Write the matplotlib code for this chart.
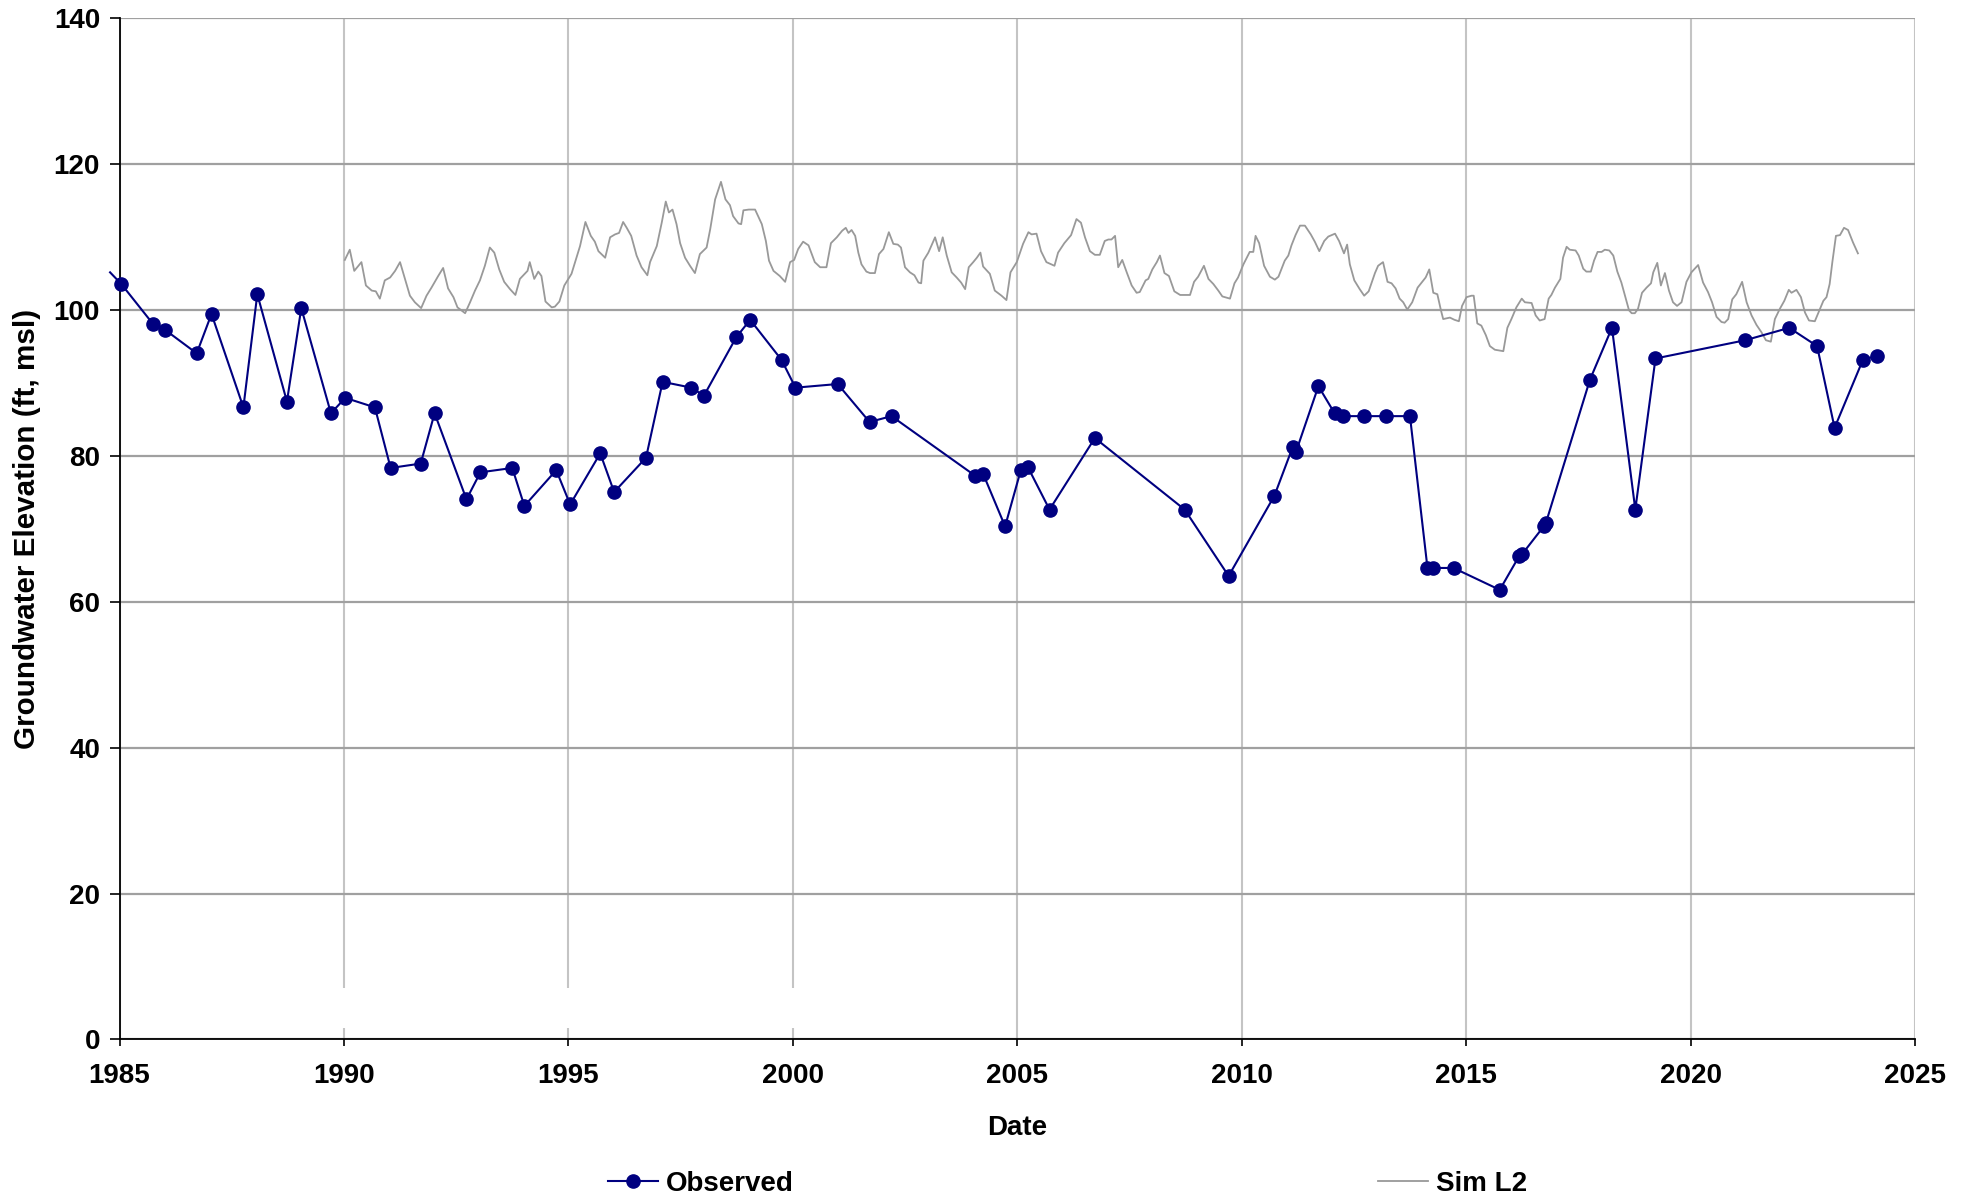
import matplotlib
matplotlib.use("Agg")
import matplotlib.pyplot as plt
from matplotlib.lines import Line2D
from matplotlib.patches import Rectangle

# ---------------- data ----------------
obs_dates = [1984.79, 1985.04, 1985.75, 1986.02, 1986.72, 1987.05, 1987.76, 1988.07, 1988.73, 1989.05,
             1989.71, 1990.03, 1990.69, 1991.04, 1991.71, 1992.02, 1992.73, 1993.04, 1993.75, 1994.02,
             1994.73, 1995.04, 1995.71, 1996.02, 1996.73, 1997.10, 1997.74, 1998.02, 1998.74, 1999.05,
             1999.75, 2000.06, 2001.00, 2001.71, 2002.20, 2004.07, 2004.24, 2004.73, 2005.08, 2005.23,
             2005.72, 2006.73, 2008.73, 2009.71, 2010.73, 2011.14, 2011.21, 2011.71, 2012.07, 2012.25,
             2012.73, 2013.22, 2013.75, 2014.14, 2014.26, 2014.72, 2015.75, 2016.19, 2016.25, 2016.73,
             2016.78, 2017.76, 2018.25, 2018.77, 2019.22, 2021.22, 2022.20, 2022.82, 2023.21, 2023.84,
             2024.16]
obs_values = [105.1, 103.5, 98.0, 97.2, 94.0, 99.4, 86.6, 102.1, 87.4, 100.2,
              85.8, 87.9, 86.6, 78.3, 78.9, 85.8, 74.0, 77.7, 78.3, 73.1,
              78.0, 73.3, 80.3, 75.0, 79.7, 90.1, 89.3, 88.2, 96.2, 98.6,
              93.1, 89.3, 89.8, 84.6, 85.4, 77.2, 77.5, 70.3, 78.0, 78.5,
              72.6, 82.4, 72.6, 63.5, 74.5, 81.2, 80.5, 89.5, 85.8, 85.4,
              85.4, 85.4, 85.4, 64.6, 64.6, 64.6, 61.6, 66.3, 66.5, 70.3,
              70.8, 90.4, 97.5, 72.6, 93.3, 95.8, 97.5, 95.0, 83.8, 93.1,
              93.7]

sim_dates = [
    1990.02, 1990.13, 1990.23, 1990.39, 1990.49, 1990.62, 1990.71, 1990.80, 1990.91, 1991.03,
    1991.14, 1991.25, 1991.36, 1991.47, 1991.58, 1991.72, 1991.84, 1991.95, 1992.10, 1992.21,
    1992.32, 1992.44, 1992.53, 1992.70, 1992.81, 1992.92, 1993.03, 1993.14, 1993.25, 1993.35,
    1993.46, 1993.57, 1993.70, 1993.82, 1993.92, 1994.09, 1994.14, 1994.24, 1994.33, 1994.40,
    1994.49, 1994.63, 1994.70, 1994.80, 1994.91, 1995.07, 1995.26, 1995.38, 1995.50,
    1995.59, 1995.67, 1995.82, 1995.93, 1996.04, 1996.13, 1996.22, 1996.30, 1996.40, 1996.52,
    1996.63, 1996.76, 1996.82, 1996.97, 1997.08, 1997.17, 1997.24, 1997.32, 1997.41, 1997.49,
    1997.60, 1997.71, 1997.82, 1997.93, 1998.08, 1998.16, 1998.27, 1998.40, 1998.50, 1998.60,
    1998.67, 1998.79, 1998.85, 1998.90, 1999.02, 1999.16, 1999.31, 1999.40, 1999.47, 1999.57,
    1999.71, 1999.83, 1999.94, 2000.03, 2000.12, 2000.23, 2000.35, 2000.49, 2000.61, 2000.75,
    2000.85, 2000.98, 2001.10, 2001.18, 2001.24, 2001.31,
    2001.39, 2001.46, 2001.53, 2001.64, 2001.72, 2001.83, 2001.92, 2002.02, 2002.14, 2002.24,
    2002.34, 2002.41, 2002.50, 2002.61, 2002.71, 2002.80, 2002.86, 2002.91, 2003.02, 2003.17,
    2003.26, 2003.34, 2003.43, 2003.54, 2003.65, 2003.75, 2003.84, 2003.92, 2004.02, 2004.10,
    2004.18, 2004.24, 2004.39, 2004.50, 2004.65, 2004.76, 2004.85, 2004.99, 2005.13, 2005.25,
    2005.32, 2005.43, 2005.53, 2005.65, 2005.83, 2005.91, 2006.05, 2006.20, 2006.32, 2006.42,
    2006.51, 2006.62, 2006.73, 2006.84, 2006.95, 2007.03, 2007.10,
    2007.18, 2007.25, 2007.34, 2007.44, 2007.55, 2007.66, 2007.73, 2007.86, 2007.92, 2008.01,
    2008.11, 2008.18, 2008.28, 2008.38, 2008.50, 2008.63, 2008.85, 2008.94, 2009.03, 2009.16,
    2009.26, 2009.37, 2009.48, 2009.57, 2009.74, 2009.84, 2009.92, 2010.04, 2010.18, 2010.26,
    2010.31, 2010.39, 2010.50, 2010.63, 2010.74, 2010.82, 2010.96, 2011.04, 2011.11, 2011.20,
    2011.30, 2011.41, 2011.54, 2011.63, 2011.73, 2011.84, 2011.93, 2012.08, 2012.17, 2012.28,
    2012.35, 2012.41, 2012.51, 2012.63, 2012.73, 2012.83,
    2012.97, 2013.04, 2013.15, 2013.25, 2013.34, 2013.43, 2013.52, 2013.60, 2013.69, 2013.80,
    2013.92, 2014.01, 2014.10, 2014.18, 2014.27, 2014.36, 2014.44, 2014.49, 2014.64, 2014.74,
    2014.84, 2014.91, 2015.01, 2015.12, 2015.17, 2015.25, 2015.34, 2015.44, 2015.53, 2015.64,
    2015.83, 2015.92, 2016.01, 2016.12, 2016.24, 2016.31, 2016.46, 2016.55, 2016.64, 2016.75,
    2016.84, 2016.90, 2016.98, 2017.10, 2017.16, 2017.24, 2017.31, 2017.44, 2017.51, 2017.61,
    2017.68, 2017.78, 2017.85, 2017.93, 2018.02, 2018.09, 2018.19, 2018.28, 2018.37, 2018.46,
    2018.54, 2018.63, 2018.69,
    2018.76, 2018.83, 2018.92, 2019.02, 2019.12, 2019.17, 2019.26, 2019.34, 2019.43, 2019.52,
    2019.61, 2019.70, 2019.80, 2019.91, 2020.02, 2020.17, 2020.28, 2020.39, 2020.48, 2020.58,
    2020.69, 2020.76, 2020.84, 2020.93, 2021.02, 2021.15, 2021.25, 2021.36, 2021.47, 2021.58,
    2021.68, 2021.79, 2021.88, 2021.99, 2022.09, 2022.19, 2022.25, 2022.36, 2022.46, 2022.55,
    2022.64, 2022.77, 2022.88, 2022.96, 2023.03, 2023.10, 2023.16, 2023.24, 2023.33, 2023.42,
    2023.51, 2023.62, 2023.73]
sim_values = [
    106.8, 108.2, 105.3, 106.5, 103.3, 102.6, 102.5, 101.5, 104.0, 104.4,
    105.3, 106.5, 104.2, 101.9, 101.0, 100.2, 101.9, 103.0, 104.6, 105.7,
    102.9, 101.7, 100.3, 99.5, 101.0, 102.6, 104.0, 106.0, 108.5, 107.8,
    105.5, 103.8, 102.8, 102.0, 104.2, 105.3, 106.5, 104.2, 105.2, 104.6,
    101.1, 100.3, 100.4, 101.1, 103.3, 104.9, 108.7, 112.0, 110.1,
    109.3, 108.0, 107.1, 109.9, 110.3, 110.5, 112.0, 111.2, 110.1, 107.4,
    105.8, 104.7, 106.5, 108.7, 111.9, 114.8, 113.3, 113.7, 111.7, 109.1,
    107.1, 106.0, 105.0, 107.6, 108.5, 111.0, 115.1, 117.5, 115.1, 114.3,
    112.8, 111.8, 111.7, 113.6, 113.7, 113.7, 111.7, 109.4, 106.7, 105.3,
    104.6, 103.8, 106.5, 106.8, 108.3, 109.3, 108.8, 106.5, 105.8, 105.8,
    109.1, 109.9, 110.8, 111.2, 110.5, 110.9,
    110.1, 107.8, 106.2, 105.2, 105.0, 105.0, 107.6, 108.3, 110.6, 109.0,
    108.9, 108.5, 105.8, 105.1, 104.7, 103.7, 103.6, 106.7, 107.8, 109.9,
    108.0, 109.9, 107.4, 105.1, 104.4, 103.7, 102.8, 105.8, 106.5, 107.1,
    107.8, 105.9, 104.9, 102.6, 101.9, 101.3, 105.1, 106.5, 109.0, 110.6,
    110.3, 110.4, 108.0, 106.5, 106.0, 107.8, 109.1, 110.2, 112.4, 111.9,
    109.9, 108.0, 107.5, 107.5, 109.4, 109.6, 109.6,
    110.1, 105.8, 106.8, 105.1, 103.3, 102.3, 102.4, 104.0, 104.2, 105.5,
    106.5, 107.4, 105.0, 104.6, 102.5, 102.0, 102.0, 103.8, 104.5, 106.0,
    104.2, 103.5, 102.6, 101.8, 101.5, 103.6, 104.4, 106.2, 107.9, 107.9,
    110.1, 109.1, 106.0, 104.5, 104.1, 104.5, 106.7, 107.4, 108.8, 110.2,
    111.5, 111.5, 110.3, 109.3, 108.0, 109.4, 110.0, 110.4, 109.4, 107.7,
    108.9, 106.2, 104.0, 102.8, 101.9, 102.5,
    105.0, 106.0, 106.5, 103.8, 103.6, 102.9, 101.5, 101.0, 100.0, 101.0,
    103.0, 103.7, 104.4, 105.5, 102.3, 102.1, 99.9, 98.7, 98.9, 98.6,
    98.4, 100.5, 101.7, 101.9, 101.9, 98.1, 97.8, 96.5, 95.0, 94.5,
    94.3, 97.5, 98.7, 100.3, 101.5, 101.0, 100.9, 99.2, 98.5, 98.7,
    101.5, 102.0, 103.0, 104.2, 107.1, 108.6, 108.2, 108.1, 107.4, 105.6,
    105.2, 105.2, 106.7, 107.9, 107.9, 108.2, 108.1, 107.4, 105.2, 103.7,
    101.9, 99.9, 99.5,
    99.5, 100.1, 102.3, 103.0, 103.6, 105.1, 106.4, 103.3, 105.0, 102.6,
    101.0, 100.5, 101.0, 103.8, 105.1, 106.1, 103.7, 102.4, 101.0, 99.0,
    98.3, 98.2, 98.7, 101.4, 102.1, 103.8, 101.0, 99.2, 97.9, 96.9,
    95.8, 95.6, 98.7, 100.1, 101.2, 102.7, 102.3, 102.7, 101.7, 99.6,
    98.5, 98.4, 100.0, 101.2, 101.7, 103.5, 106.5, 110.1, 110.2, 111.2,
    110.9, 109.2, 107.7]

x_ticks = [1985, 1990, 1995, 2000, 2005, 2010, 2015, 2020, 2025]
y_ticks = [0, 20, 40, 60, 80, 100, 120, 140]
series_labels = ["Observed", "Sim L2"]
x_label = "Date"
y_label = "Groundwater Elevation (ft, msl)"

assert len(obs_dates) == len(obs_values)
assert len(sim_dates) == len(sim_values)

# ---------------- style ----------------
FONT = "Liberation Sans"
FS = 20
OBS_COLOR = "#000080"
SIM_COLOR = "#999999"

plt.rcParams["font.family"] = [FONT, "DejaVu Sans"]
plt.rcParams["font.weight"] = "bold"

fig = plt.figure(figsize=(19.73, 11.98), dpi=100)
ax = fig.add_axes([0.06057, 0.13231, 0.9100, 0.8530])

ax.set_xlim(1985, 2025)
ax.set_ylim(0, 140)
ax.set_xticks(x_ticks)
ax.set_yticks(y_ticks)
ax.set_xticklabels([str(t) for t in x_ticks], fontsize=FS, fontweight="bold")
ax.set_yticklabels([str(t) for t in y_ticks], fontsize=FS, fontweight="bold")

ax.tick_params(axis="y", direction="out", length=7, width=1.2, pad=7)
ax.tick_params(axis="x", direction="out", length=5, width=1.2, pad=12)

ax.yaxis.grid(True, color="#A0A0A0", linewidth=1.6)
ax.xaxis.grid(True, color="#C4C4C4", linewidth=1.5)

for s in ("top", "right"):
    ax.spines[s].set_visible(False)
for s in ("left", "bottom"):
    ax.spines[s].set_linewidth(1.3)
    ax.spines[s].set_color("black")

# small white gap in the early vertical gridlines (as in the reference)
ax.add_patch(Rectangle((1986, 1.6), 16, 5.45, facecolor="white", edgecolor="none", zorder=1.6))

ax.set_xlabel(x_label, fontsize=FS, fontweight="bold", labelpad=19)
ax.set_ylabel(y_label, fontsize=21.3, fontweight="bold", labelpad=9)

# simulated series
ax.plot(sim_dates, sim_values, color=SIM_COLOR, linewidth=1.3, zorder=2)

# observed series (the first point lies just before the axis start)
ax.plot(obs_dates, obs_values, color=OBS_COLOR, linewidth=1.5, zorder=3, clip_on=False,
        marker="o", markersize=9.5, markevery=list(range(1, len(obs_dates))))

handles = [
    Line2D([], [], color=OBS_COLOR, linewidth=1.5, marker="o", markersize=9.5),
    Line2D([], [], color=SIM_COLOR, linewidth=1.3),
]
fig.legend(handles, series_labels, loc="center left", bbox_to_anchor=(608 / 1973, 0.0117),
           ncol=2, frameon=False, columnspacing=21, handlelength=1.8, handletextpad=0.3,
           borderpad=0, borderaxespad=0, prop={"family": FONT, "weight": "bold", "size": FS})

fig.savefig("out.png", dpi=100)
